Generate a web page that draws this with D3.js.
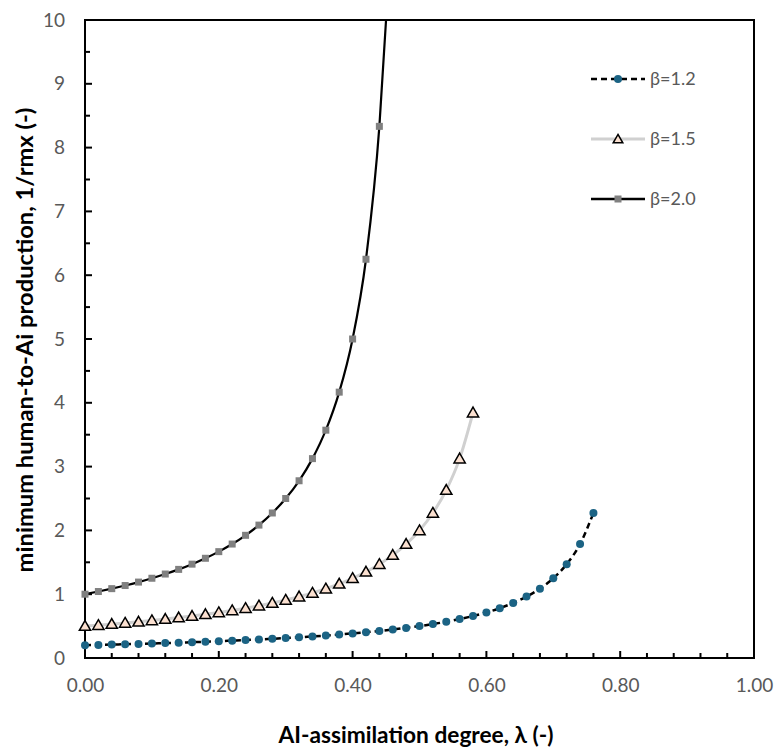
<!DOCTYPE html>
<html><head><meta charset="utf-8">
<script src="https://cdn.jsdelivr.net/npm/d3@7"></script>
<style>body{margin:0;background:#fff}svg{display:block}</style>
</head><body>
<script>
// Data
const lambda = [0.00,0.02,0.04,0.06,0.08,0.10,0.12,0.14,0.16,0.18,0.20,0.22,0.24,0.26,0.28,0.30,0.32,0.34,0.36,0.38,0.40,0.42,0.44,0.46,0.48,0.50,0.52,0.54,0.56,0.58,0.60,0.62,0.64,0.66,0.68,0.70,0.72,0.74,0.76];
const beta12 = [0.200,0.205,0.210,0.216,0.221,0.227,0.234,0.240,0.248,0.255,0.263,0.272,0.281,0.291,0.301,0.313,0.325,0.338,0.352,0.368,0.385,0.403,0.424,0.446,0.472,0.500,0.532,0.568,0.610,0.658,0.714,0.781,0.862,0.962,1.087,1.250,1.471,1.786,2.273];
const beta15 = [0.500,0.515,0.532,0.549,0.568,0.588,0.610,0.633,0.658,0.685,0.714,0.746,0.781,0.820,0.862,0.909,0.962,1.020,1.087,1.163,1.250,1.351,1.471,1.613,1.786,2.000,2.273,2.632,3.125,3.846];
const beta20 = [1.000,1.042,1.087,1.136,1.190,1.250,1.316,1.389,1.471,1.563,1.667,1.786,1.923,2.083,2.273,2.500,2.778,3.125,3.571,4.167,5.000,6.250,8.333];
const beta20LineEnd = {x:0.45, y:10.0};
const seriesNames = ["β=1.2","β=1.5","β=2.0"];
const xTicks = [0,0.2,0.4,0.6,0.8,1.0];
const yTicks = [0,1,2,3,4,5,6,7,8,9,10];

const W=776,H=753;
const m={l:85,r:22,t:20,b:95};
const svg=d3.select("body").append("svg").attr("width",W).attr("height",H);
const x=d3.scaleLinear().domain([0,1]).range([m.l,W-m.r]);
const y=d3.scaleLinear().domain([0,10]).range([H-m.b,m.t]);
const font="Lato, 'Open Sans', sans-serif";

// frame
svg.append("rect").attr("x",x(0)).attr("y",y(10)).attr("width",x(1)-x(0)).attr("height",y(0)-y(10))
  .attr("fill","none").attr("stroke","#000").attr("stroke-width",2);

// x axis ticks (inward)
const xMinor=d3.range(0,1.0001,0.04);
svg.append("g").selectAll("line").data(xMinor).join("line")
  .attr("x1",d=>x(d)).attr("x2",d=>x(d)).attr("y1",y(0))
  .attr("y2",d=>y(0)-(Math.abs(d*5-Math.round(d*5))<1e-6?7:5))
  .attr("stroke","#000").attr("stroke-width",2);
const xAxis=d3.axisBottom(x).tickValues(xTicks).tickFormat(d3.format(".2f")).tickSize(0).tickPadding(21);
const gx=svg.append("g").attr("transform",`translate(0,${y(0)})`).call(xAxis);
gx.select(".domain").remove();
gx.selectAll("text").attr("font-family",font).attr("font-size",19).attr("fill","#595959");

// y axis ticks (inward)
const yMinor=d3.range(0,10.001,0.5);
svg.append("g").selectAll("line").data(yMinor).join("line")
  .attr("y1",d=>y(d)).attr("y2",d=>y(d)).attr("x1",x(0))
  .attr("x2",d=>x(0)+(d%1===0?7:5))
  .attr("stroke","#000").attr("stroke-width",2);
const yAxis=d3.axisLeft(y).tickValues(yTicks).tickFormat(d3.format("d")).tickSize(0).tickPadding(20);
const gy=svg.append("g").attr("transform",`translate(${x(0)},0)`).call(yAxis);
gy.select(".domain").remove();
gy.selectAll("text").attr("font-family",font).attr("font-size",19).attr("fill","#595959");

// axis titles, sized to the reference text extents
function fitText(sel,target){
  sel.attr("font-size",20);
  const len=sel.node().getComputedTextLength();
  sel.attr("font-size",(20*target/len).toFixed(2));
}
const xt=svg.append("text").attr("x",416).attr("y",743).attr("text-anchor","middle")
  .attr("font-family",font).attr("font-weight","bold").attr("fill","#000")
  .text("AI-assimilation degree, λ (-)");
fitText(xt,275);
const yt=svg.append("text").attr("transform",`translate(33,340) rotate(-90)`).attr("text-anchor","middle")
  .attr("font-family",font).attr("font-weight","bold").attr("fill","#000")
  .text("minimum human-to-Ai production, 1/rmx (-)");
fitText(yt,465);

svg.append("clipPath").attr("id","clip").append("rect")
  .attr("x",x(0)).attr("y",y(10)).attr("width",x(1)-x(0)).attr("height",y(0)-y(10));

const line=d3.line().x(d=>x(d[0])).y(d=>y(d[1])).curve(d3.curveMonotoneX);
const p12=beta12.map((v,i)=>[lambda[i],v]);
const p15=beta15.map((v,i)=>[lambda[i],v]);
const p20=beta20.map((v,i)=>[lambda[i],v]);
const p20line=p20.concat([[beta20LineEnd.x,beta20LineEnd.y]]);

const plot=svg.append("g").attr("clip-path","url(#clip)");
plot.append("path").attr("d",line(p20line)).attr("fill","none").attr("stroke","#000").attr("stroke-width",2.2);
plot.append("path").attr("d",line(p15)).attr("fill","none").attr("stroke","#d0d0d0").attr("stroke-width",3);
plot.append("path").attr("d",line(p12)).attr("fill","none").attr("stroke","#000").attr("stroke-width",2.5).attr("stroke-dasharray","6,4");

const tri=d3.symbol().type(d3.symbolTriangle).size(55);
const triSmall=d3.symbol().type(d3.symbolTriangle).size(40);
function drawSquares(g,pts){g.selectAll(null).data(pts).join("rect")
  .attr("x",d=>x(d[0])-3.5).attr("y",d=>y(d[1])-3.5).attr("width",7).attr("height",7).attr("fill","#808080");}
function drawTris(g,pts,sym){g.selectAll(null).data(pts).join("path").attr("d",sym)
  .attr("transform",d=>`translate(${x(d[0])},${y(d[1])+1})`).attr("fill","#fbe0d0").attr("stroke","#000").attr("stroke-width",1.5);}
function drawCircles(g,pts){g.selectAll(null).data(pts).join("circle")
  .attr("cx",d=>x(d[0])).attr("cy",d=>y(d[1])).attr("r",4).attr("fill","#1b6384");}
drawSquares(svg.append("g"),p20);
drawTris(svg.append("g"),p15,tri);
drawCircles(svg.append("g"),p12);

// legend
const lg=svg.append("g");
const rows=[79,139,199];
const lx1=591,lx2=645,lc=(lx1+lx2)/2;
lg.append("line").attr("x1",lx1).attr("x2",lx2).attr("y1",rows[0]).attr("y2",rows[0]).attr("stroke","#000").attr("stroke-width",2.5).attr("stroke-dasharray","6,4");
lg.append("circle").attr("cx",lc).attr("cy",rows[0]).attr("r",4).attr("fill","#1b6384");
lg.append("line").attr("x1",lx1).attr("x2",lx2).attr("y1",rows[1]).attr("y2",rows[1]).attr("stroke","#d0d0d0").attr("stroke-width",3);
lg.append("path").attr("d",triSmall).attr("transform",`translate(${lc},${rows[1]+1})`).attr("fill","#fbe0d0").attr("stroke","#000").attr("stroke-width",1.5);
lg.append("line").attr("x1",lx1).attr("x2",lx2).attr("y1",rows[2]).attr("y2",rows[2]).attr("stroke","#000").attr("stroke-width",2.5);
lg.append("rect").attr("x",lc-3.5).attr("y",rows[2]-3.5).attr("width",7).attr("height",7).attr("fill","#808080");
lg.selectAll("text.l").data(seriesNames).join("text").attr("class","l")
  .attr("x",650).attr("y",(d,i)=>rows[i]).attr("dy","0.35em")
  .attr("font-family",font).attr("font-size",18).attr("fill","#595959").text(d=>d);
</script>
</body></html>
